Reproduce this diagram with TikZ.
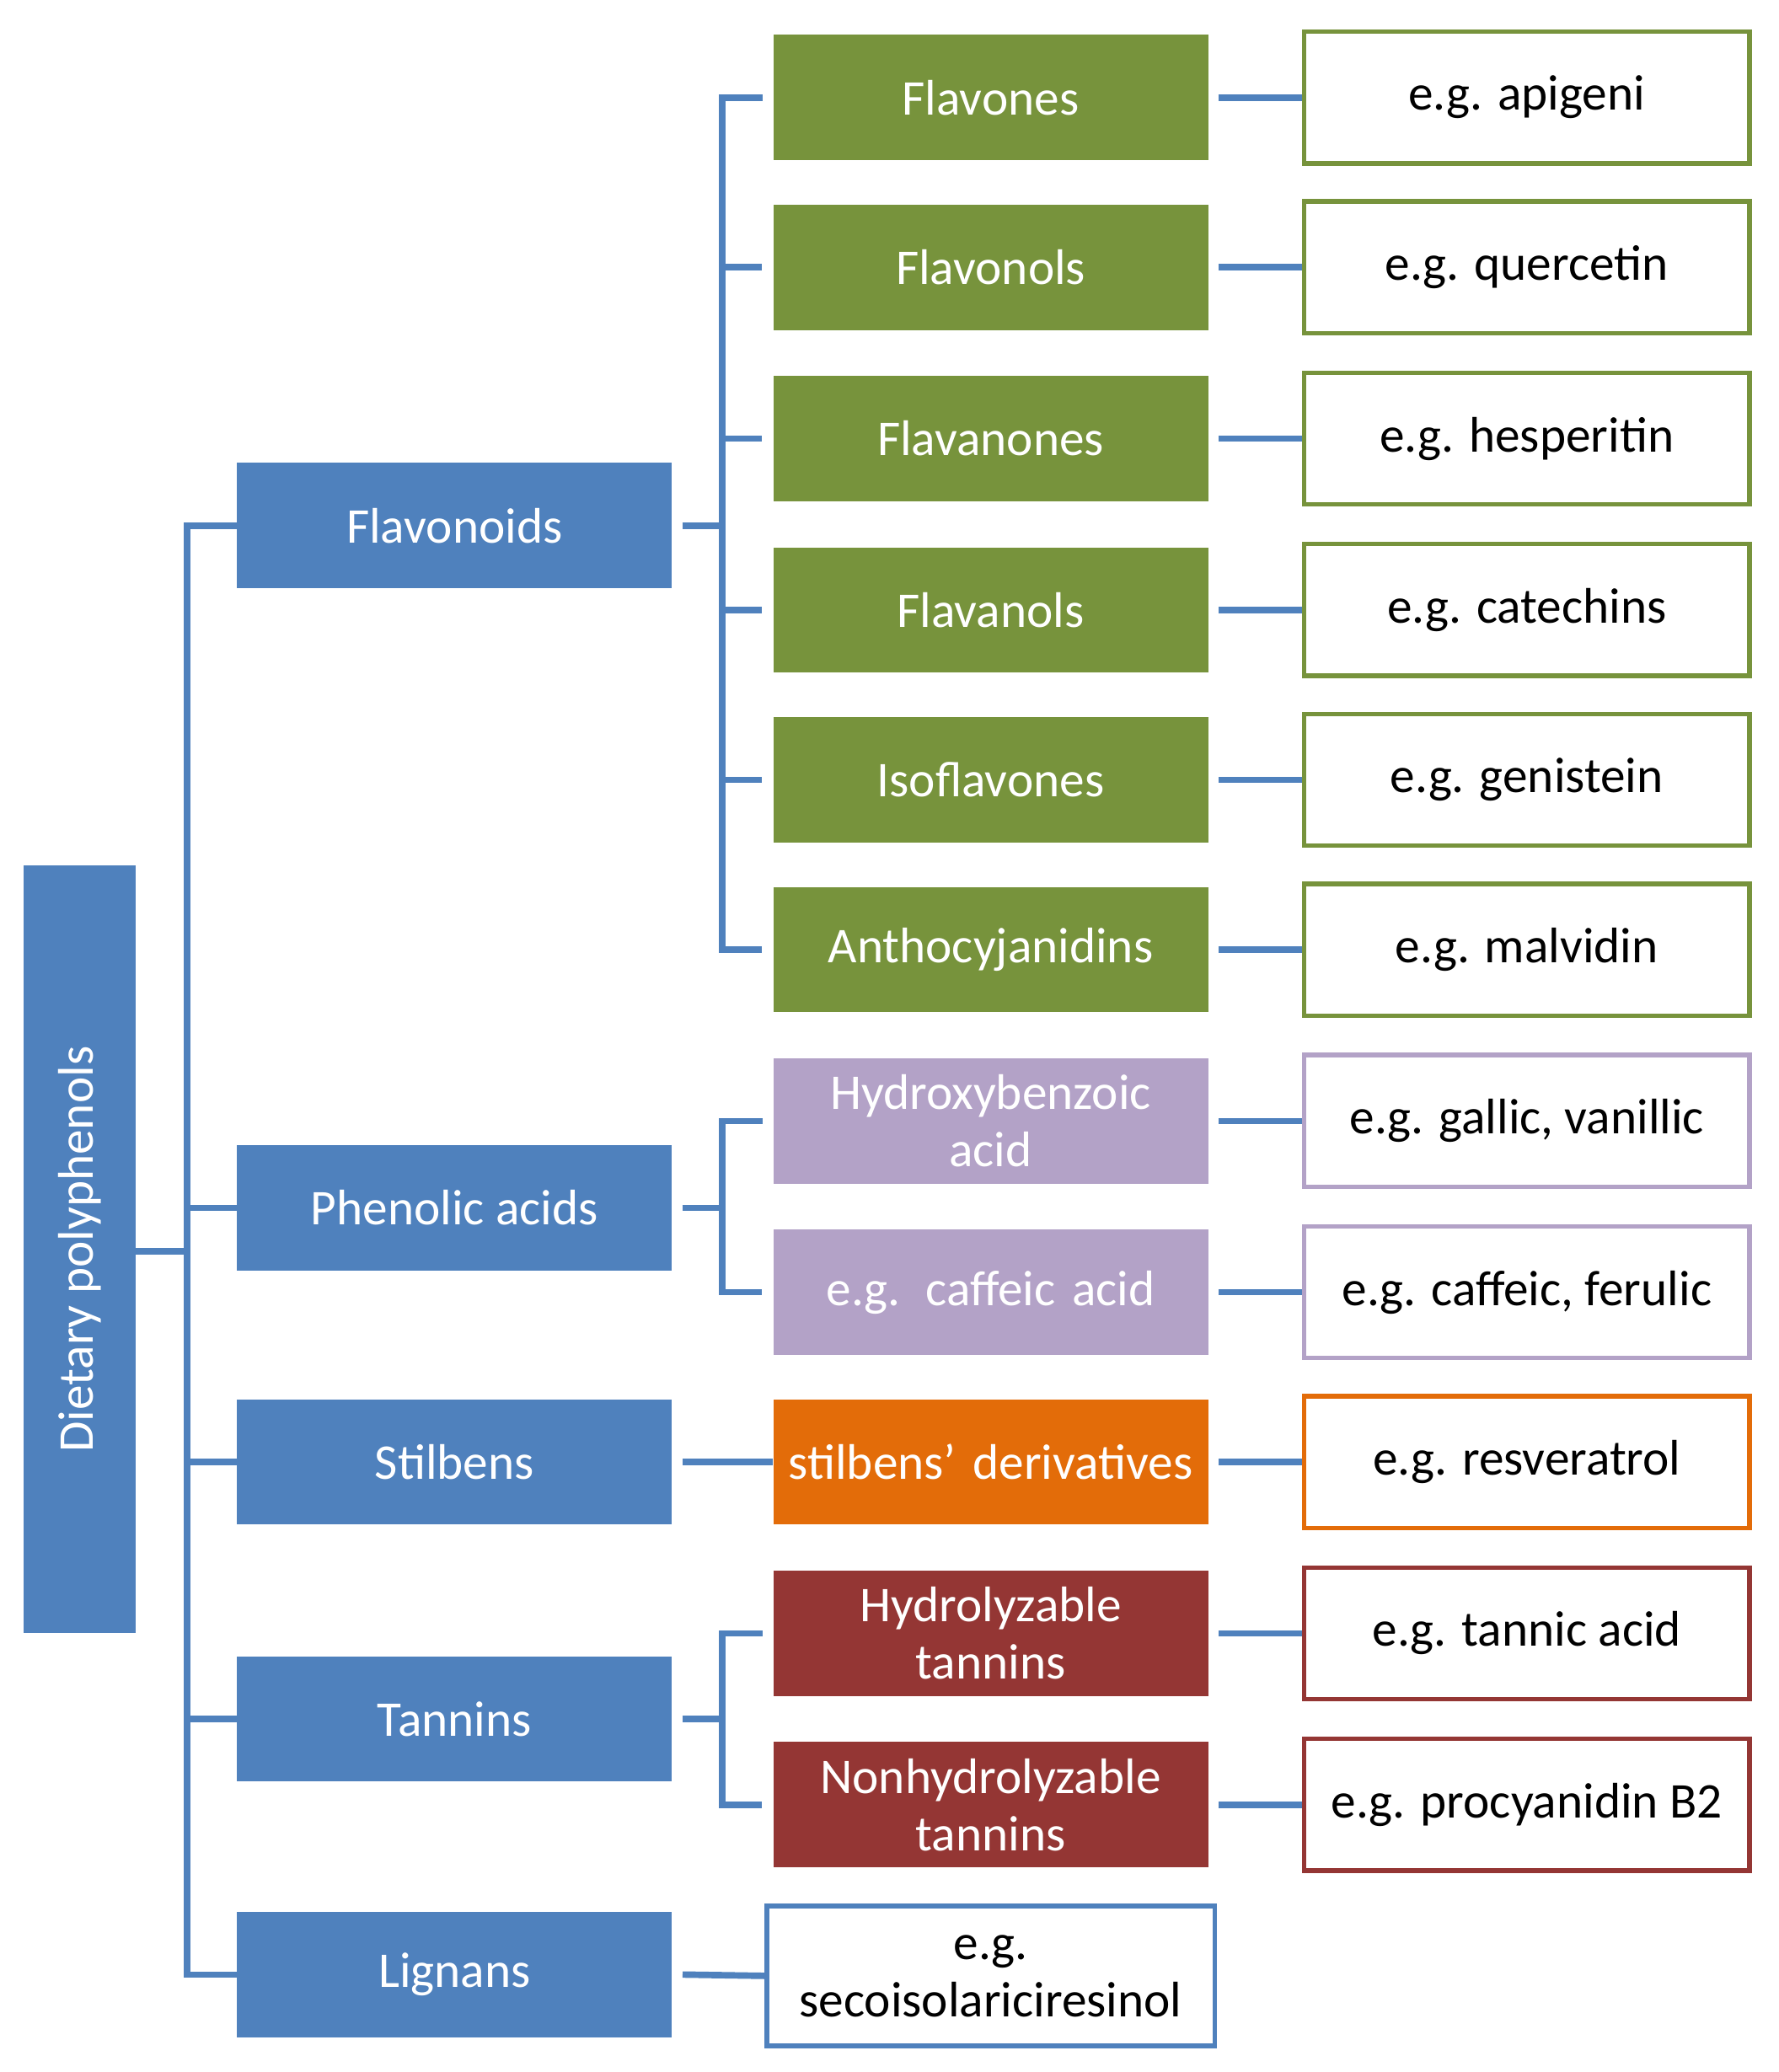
\documentclass[tikz,border=0pt]{standalone}
\usepackage{fontspec}
\setmainfont{Carlito}
\definecolor{cb}{HTML}{4F81BD}
\definecolor{cg}{HTML}{77933C}
\definecolor{cp}{HTML}{B3A2C7}
\definecolor{co}{HTML}{E36C09}
\definecolor{cr}{HTML}{943634}
\begin{document}
\begin{tikzpicture}[x=0.05cm,y=-0.05cm,
  fnt/.style={font=\fontsize{54}{62}\selectfont},
  l1/.style={fill=cb,draw=none,minimum width=330*0.05cm,minimum height=95*0.05cm,text=white,fnt,align=center,inner sep=0},
  l2/.style={fill=#1,draw=none,minimum width=330*0.05cm,minimum height=95*0.05cm,text=white,fnt,align=center,inner sep=0,text width=330*0.05cm},
  l3/.style={fill=white,draw=#1,line width=5pt,minimum width=338*0.05cm,minimum height=100*0.05cm,text=black,fnt,align=center,inner sep=0},
  con/.style={draw=cb,line width=7pt}]
\useasboundingbox (0,0) rectangle (1350,1573);
\node[fill=cb,minimum width=85*0.05cm,minimum height=583*0.05cm] (root) at (60.5,948.5) {};
\node[rotate=90,text=white,fnt] (rt) at (root.center) {Dietary polyphenols};
\node[l1] (fd) at (345,399) {Flavonoids};
\node[l1] (pa) at (345,917) {Phenolic acids};
\node[l1] (st) at (345,1110) {Stilbens};
\node[l1] (ta) at (345,1305) {Tannins};
\node[l1] (li) at (345,1499) {Lignans};
\coordinate (t0) at (142,399); \coordinate (t1) at (142,1499);
\draw[con] (root.east|-0,950) -- (142,950);
\draw[con] (fd.west) -| (t0) -- (t1) -- (li.west);
\foreach \n in {pa,st,ta}{\draw[con] (142,0|-\n.west) -- (\n.west);}
% level 2
\foreach \nm/\y/\c/\t in {a/74/cg/Flavones,b/203/cg/Flavonols,c/333/cg/Flavanones,d/463/cg/Flavanols,e/592/cg/Isoflavones,f/721/cg/Anthocyjanidins,g/851/cp/{Hydroxybenzoic\\acid},h/981/cp/e.g. caffeic acid,i/1110/co/stilbens' derivatives,j/1240/cr/{Hydrolyzable\\tannins},k/1370/cr/{Nonhydrolyzable\\tannins}}{
  \node[l2=\c] (m\nm) at (752,\y) {\t};}
\node[l3=cb,minimum width=340*0.05cm,minimum height=106*0.05cm] (ml) at (752,1500) {e.g.\\secoisolariciresinol};
% level 3
\foreach \nm/\c/\t in {a/cg/e.g. apigeni,b/cg/e.g. quercetin,c/cg/e.g. hesperitin,d/cg/e.g. catechins,e/cg/e.g. genistein,f/cg/e.g. malvidin,g/cp/{e.g. gallic, vanillic},h/cp/{e.g. caffeic, ferulic},i/co/e.g. resveratrol,j/cr/e.g. tannic acid,k/cr/e.g. procyanidin B2}{
  \node[l3=\c] (r\nm) at (1159,0|-m\nm) {\t};
  \draw[con] (m\nm.east) ++(8,0) -- (r\nm.west);}
% brackets
\draw[con] (fd.east) ++(8,0) -- (548,399);
\draw[con] (ma.west) ++(-8,0) -| (548,721) -- ++(30,0);
\foreach \n in {b,c,d,e}{\draw[con] (548,0|-m\n.west) -- ++(30,0);}
\draw[con] (pa.east) ++(8,0) -- (548,917);
\draw[con] (mg.west) ++(-8,0) -| (548,981) -- ++(30,0);
\draw[con] (st.east) ++(8,0) -- (mi.west);
\draw[con] (ta.east) ++(8,0) -- (548,1305);
\draw[con] (mj.west) ++(-8,0) -| (548,1370) -- ++(30,0);
\draw[con] (li.east) ++(8,0) -- (ml.west);
\end{tikzpicture}
\end{document}
